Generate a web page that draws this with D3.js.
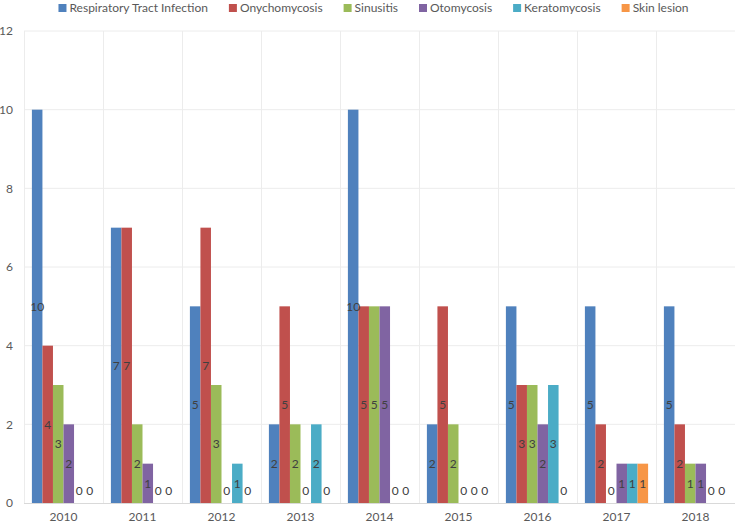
<!DOCTYPE html>
<html>
<head>
<meta charset="utf-8">
<script src="https://cdn.jsdelivr.net/npm/d3@7"></script>
<style>
  html, body { margin: 0; padding: 0; background: #fff; }
  svg { display: block; font-family: Lato, "Open Sans", sans-serif; }
</style>
</head>
<body>
<svg id="chart" width="735" height="525"></svg>
<script>
const years = ["2010","2011","2012","2013","2014","2015","2016","2017","2018"];
const seriesNames = ["Respiratory Tract Infection","Onychomycosis","Sinusitis","Otomycosis","Keratomycosis","Skin lesion"];
const respiratory = [10, 7, 5, 2, 10, 2, 5, 5, 5];
const onychomycosis = [4, 7, 7, 5, 5, 5, 3, 2, 2];
const sinusitis = [3, 2, 3, 2, 5, 2, 3, 0, 1];
const otomycosis = [2, 1, 0, 0, 5, 0, 2, 1, 1];
const keratomycosis = [0, 0, 1, 2, 0, 0, 3, 1, 0];
const skinLesion = [0, 0, 0, 0, 0, 0, 0, 1, 0];
const yTicks = [0, 2, 4, 6, 8, 10, 12];
const colors = ["#4F81BD","#C0504D","#9BBB59","#8064A2","#4BACC6","#F79646"];

const seriesValues = [respiratory, onychomycosis, sinusitis, otomycosis, keratomycosis, skinLesion];

const svg = d3.select("#chart");
const plot = { left: 24, right: 735, top: 31, bottom: 503 };

const x0 = d3.scaleBand().domain(years).range([plot.left, plot.right]).paddingInner(0).paddingOuter(0);
const bw = x0.bandwidth();
const x1 = d3.scaleBand().domain(seriesNames).range([bw * 0.1, bw * 0.9]).padding(0);
const y = d3.scaleLinear().domain([0, 12]).range([plot.bottom, plot.top]);

// gridlines
const grid = svg.append("g");
grid.selectAll("line.h").data(yTicks.filter(t => t > 0)).join("line")
  .attr("x1", plot.left).attr("x2", plot.right)
  .attr("y1", d => y(d)).attr("y2", d => y(d))
  .attr("stroke", "#ececec").attr("stroke-width", 1);
const vb = years.map(yr => x0(yr)).concat([plot.right - 0.5]);
grid.selectAll("line.v").data(vb).join("line")
  .attr("x1", d => Math.round(d) + 0.5).attr("x2", d => Math.round(d) + 0.5)
  .attr("y1", plot.top).attr("y2", plot.bottom)
  .attr("stroke", "#ececec").attr("stroke-width", 1);

// y labels
svg.append("g").selectAll("text").data(yTicks).join("text")
  .attr("x", 13).attr("y", d => y(d)).attr("dy", "0.35em")
  .attr("text-anchor", "end").attr("font-size", 12).attr("fill", "#595959")
  .text(d => d);

// bars
const rows = years.map((yr, i) => ({ year: yr, vals: seriesNames.map((s, k) => ({ s, k, v: seriesValues[k][i] })) }));
const groups = svg.append("g").selectAll("g").data(rows).join("g")
  .attr("transform", d => `translate(${x0(d.year)},0)`);
groups.selectAll("rect").data(d => d.vals).join("rect")
  .attr("x", d => x1(d.s)).attr("width", x1.bandwidth())
  .attr("y", d => y(d.v)).attr("height", d => y(0) - y(d.v))
  .attr("fill", d => colors[d.k]);

// baseline
svg.append("line").attr("x1", plot.left).attr("x2", plot.right)
  .attr("y1", plot.bottom + 0.5).attr("y2", plot.bottom + 0.5)
  .attr("stroke", "#d9d9d9");

// data labels
groups.selectAll("text").data(d => d.vals).join("text")
  .attr("x", d => x1(d.s) + x1.bandwidth() / 2)
  .attr("y", d => d.v > 0 ? (y(d.v) + y(0)) / 2 : y(0) - 12)
  .attr("dy", "0.35em").attr("text-anchor", "middle")
  .attr("font-size", 12).attr("fill", "#404040")
  .text(d => d.v);

// x labels
svg.append("g").selectAll("text").data(years).join("text")
  .attr("x", d => x0(d) + bw / 2).attr("y", 517).attr("dy", "0.35em")
  .attr("text-anchor", "middle").attr("font-size", 12).attr("fill", "#595959")
  .text(d => d);

// legend
const leg = svg.append("g");
const items = leg.selectAll("g").data(seriesNames).join("g");
items.append("rect").attr("width", 8).attr("height", 8).attr("y", 4).attr("fill", (d, i) => colors[i]);
items.append("text").attr("x", 11).attr("y", 8).attr("dy", "0.35em")
  .attr("font-size", 12).attr("fill", "#595959").text(d => d);
let cx = 0;
const pos = [];
items.each(function() {
  const w = d3.select(this).select("text").node().getComputedTextLength();
  pos.push(cx);
  cx += 11 + w + 21;
});
const total = cx - 21;
const start = 373.5 - total / 2;
items.attr("transform", (d, i) => `translate(${start + pos[i]},0)`);
</script>
</body>
</html>
